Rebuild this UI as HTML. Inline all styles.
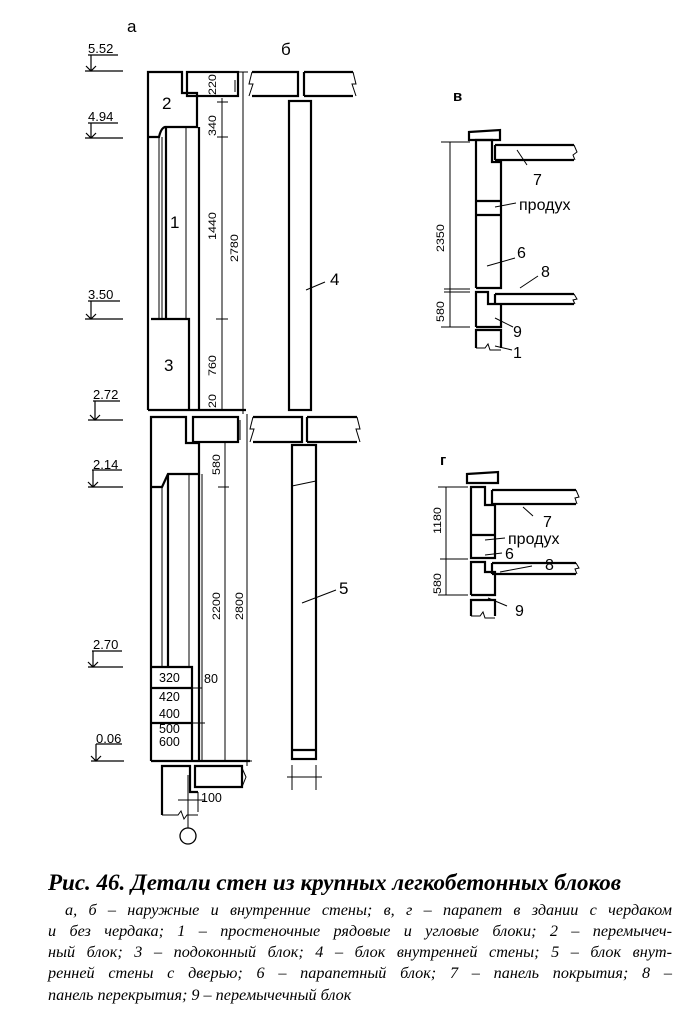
<!DOCTYPE html>
<html><head><meta charset="utf-8"><style>
body{margin:0;background:#fff;width:692px;height:1029px;overflow:hidden;position:relative}
svg{position:absolute;left:0;top:0}
.cap{position:absolute;left:48px;width:624px;font-family:"Liberation Serif",serif;font-style:italic;font-size:16.2px;line-height:21px;text-align:justify;text-align-last:justify;white-space:nowrap}
</style></head><body>
<svg width="692" height="870" viewBox="0 0 692 870" font-family="Liberation Sans, sans-serif">
<g fill="none" stroke="#000" stroke-width="1">
<g stroke-width="1.2">
<path d="M88 55H118 M85 71H123 M91 55V71 M86 66L91 71L96 66"/>
<path d="M88 123H118 M85 138H123 M91 123V138 M86 133L91 138L96 133"/>
<path d="M88 301H120 M85 319H123 M91 301V319 M86 314L91 319L96 314"/>
<path d="M93 401H120 M88 420H123 M95 401V420 M90 415L95 420L100 415"/>
<path d="M92 470H122 M88 487H123 M93 470V487 M88 482L93 487L98 482"/>
<path d="M92 651H122 M88 667H123 M93 651V667 M88 662L93 667L98 662"/>
<path d="M96 744H122 M91 761H124 M96 744V761 M91 756L96 761L101 756"/>
</g>
<g stroke-width="2.2">
<path d="M148 410V72H182V93H197V127H165Q161 128 159 137H148"/>
<rect x="187" y="72" width="51" height="24"/>
<path d="M166 319V127 M151 319H189V410 M148 410H246 M199 127V410"/>
</g>
<path d="M159 137V319 M162 137V319 M186 127V319"/>
<path d="M222 98V410 M243 72V414 M217 102H228 M217 137H228 M216 319H228 M216 410H228 M238 72H248 M158 72H148"/>
<path d="M235 80V92 M240 420V440"/>
<g stroke-width="2.2">
<path d="M252 72H298V96H252 M304 72H353 M304 96H353 M304 72V96"/>
<rect x="289" y="101" width="22" height="309"/>
</g>
<path d="M252 72L249 84L253 84L249 96 M353 72L356 84L352 84L356 96 M306 290L325 282"/>
<g stroke-width="2.2">
<path d="M151 761V417H186V443H199V474H168L162 487H151"/>
<rect x="193" y="417" width="45" height="25"/>
<path d="M168 474V667 M199 474V761 M151 667H192V761 M151 761H250 M151 688H192 M151 723H192"/>
<path d="M162 815V766H190V792H198 M195 766H242V787H195Z"/>
</g>
<path d="M162 487V667 M189 474V667 M202 474V761 M225 443V761 M218 487H229 M247 414V766 M240 761H252 M192 688H202 M192 723H205 M162 815H178L181 811L184 819L187 815H198 M188 775V828 M178 800H205 M198 792V812 M242 768L246 777L242 787"/>
<circle cx="188" cy="836" r="8" stroke-width="1.3"/>
<g stroke-width="2.2">
<path d="M253 417H302V442H253 M307 417H357 M307 442H357 M307 417V442"/>
<rect x="292" y="445" width="24" height="314"/>
<path d="M292 750H316"/>
</g>
<path d="M292 486L316 481 M253 417L250 429L254 429L250 442 M357 417L360 429L356 429L360 442 M287 777H322 M292 765V790 M316 765V790 M302 603L336 590"/>
<g stroke-width="2.2">
<path d="M469 132L500 130V140H469Z"/>
<path d="M476 288V140H492V162H501V288H476 M476 201H501 M476 215H501"/>
<path d="M495 145H574 M495 160H574 M495 145V160"/>
<path d="M476 327V292H488V304H501V327H476 M495 294H574 M495 304H574 M495 294V304"/>
<path d="M476 348V330H501V348"/>
</g>
<path d="M450 142V327 M441 142H470 M441 327H470 M444 289H470 M444 292H470 M574 145L577 152L573 155L575 160 M574 294L577 299L573 300L575 304 M476 348H485L488 344L490 350H501"/>
<path d="M517 150L527 165 M495 207L516 203 M487 266L515 258 M520 288L538 276 M495 318L513 327 M495 346L512 350"/>
<g stroke-width="2.2">
<path d="M467 474L498 472V483H467Z"/>
<path d="M471 519V487H485V505H495V519 M471 519V558H495V535H471 M495 519V535"/>
<path d="M492 490H576 M492 504H576 M492 490V504"/>
<path d="M471 595V562H485V572H495V595H471 M492 563H576 M492 574H576 M492 563V574"/>
<path d="M471 616V600H495V616"/>
</g>
<path d="M446 487V595 M438 487H468 M438 595H468 M440 559H468 M576 490L579 497L575 498L577 504 M576 563L579 568L575 569L577 574 M471 616H480L483 612L485 618H495"/>
<path d="M523 507L533 516 M485 540L505 538 M485 555L502 553 M500 572L532 566 M488 598L507 606"/>
</g>
<g fill="#000" font-size="14">
<text x="127" y="32" font-size="17">а</text>
<text x="281" y="55" font-size="17">б</text>
<text x="88" y="53" font-size="13">5.52</text>
<text x="88" y="121" font-size="13">4.94</text>
<text x="88" y="299" font-size="13">3.50</text>
<text x="93" y="399" font-size="13">2.72</text>
<text x="93" y="469" font-size="13">2.14</text>
<text x="93" y="649" font-size="13">2.70</text>
<text x="96" y="743" font-size="13">0.06</text>
<text x="162" y="109" font-size="17">2</text>
<text x="170" y="228" font-size="17">1</text>
<text x="164" y="371" font-size="17">3</text>
<text x="330" y="285" font-size="17">4</text>
<text x="339" y="594" font-size="17">5</text>
<g font-size="12.5">
<text transform="translate(216,95) rotate(-90) scale(1,0.85)">220</text>
<text transform="translate(216,136) rotate(-90) scale(1,0.85)">340</text>
<text transform="translate(216,240) rotate(-90) scale(1,0.85)">1440</text>
<text transform="translate(216,376) rotate(-90) scale(1,0.85)">760</text>
<text transform="translate(216,408) rotate(-90) scale(1,0.85)">20</text>
<text transform="translate(238,262) rotate(-90) scale(1,0.85)">2780</text>
<text transform="translate(220,475) rotate(-90) scale(1,0.85)">580</text>
<text transform="translate(220,620) rotate(-90) scale(1,0.85)">2200</text>
<text transform="translate(243,620) rotate(-90) scale(1,0.85)">2800</text>
<text x="159" y="682">320</text>
<text x="159" y="701">420</text>
<text x="159" y="718">400</text>
<text x="159" y="733">500</text>
<text x="159" y="746">600</text>
<text x="204" y="683">80</text>
<text x="201" y="802">100</text>
<text transform="translate(444,252) rotate(-90) scale(1,0.85)">2350</text>
<text transform="translate(444,322) rotate(-90) scale(1,0.85)">580</text>
<text transform="translate(441,534) rotate(-90) scale(1,0.85)">1180</text>
<text transform="translate(441,594) rotate(-90) scale(1,0.85)">580</text>
</g>
<text x="453" y="101" font-size="15" font-weight="bold">в</text>
<text x="440" y="465" font-size="15" font-weight="bold">г</text>
<text x="533" y="185" font-size="16">7</text>
<text x="519" y="210" font-size="16">продух</text>
<text x="517" y="258" font-size="16">6</text>
<text x="541" y="277" font-size="16">8</text>
<text x="513" y="337" font-size="16">9</text>
<text x="513" y="358" font-size="16">1</text>
<text x="543" y="527" font-size="16">7</text>
<text x="508" y="544" font-size="16">продух</text>
<text x="505" y="559" font-size="16">6</text>
<text x="545" y="570" font-size="16">8</text>
<text x="515" y="616" font-size="16">9</text>
</g>
</svg>
<div style="position:absolute;left:48px;top:870px;font-family:'Liberation Serif',serif;font-style:italic;font-weight:bold;font-size:23px;white-space:nowrap">Рис. 46. Детали стен из крупных легкобетонных блоков</div>
<div class="cap" style="top:900px;left:65px;width:607px">а, б – наружные и внутренние стены; в, г – парапет в здании с чердаком</div>
<div class="cap" style="top:921px">и без чердака; 1 – простеночные рядовые и угловые блоки; 2 – перемычеч-</div>
<div class="cap" style="top:942px">ный блок; 3 – подоконный блок; 4 – блок внутренней стены; 5 – блок внут-</div>
<div class="cap" style="top:963px">ренней стены с дверью; 6 – парапетный блок; 7 – панель покрытия; 8 –</div>
<div class="cap" style="top:985px;text-align-last:left;width:auto">панель перекрытия; 9 – перемычечный блок</div>
</body></html>
